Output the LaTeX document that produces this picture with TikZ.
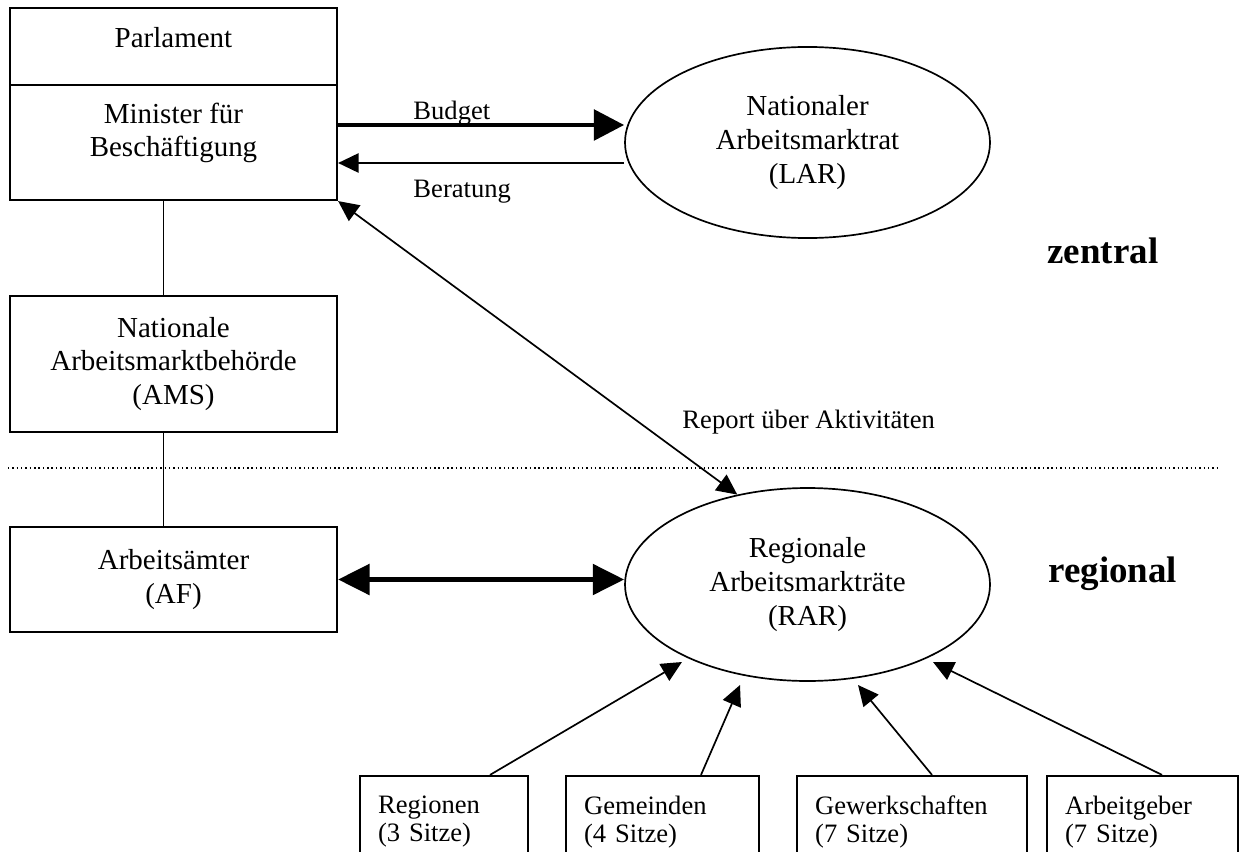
\documentclass[tikz,border=0pt]{standalone}
\usepackage{fontspec}
\setmainfont{Liberation Serif}
\usetikzlibrary{arrows.meta,shapes.geometric,calc}

\begin{document}
\begin{tikzpicture}[x=0.414pt,y=0.414pt,yscale=-1,xscale=1,
	every node/.style={font=\fontsize{12pt}{13.9pt}\selectfont},
	orgbox/.style={draw,line width=0.9pt,inner sep=0pt,align=center,minimum width=135.4pt},
	oval/.style={draw,ellipse,line width=0.7pt,inner sep=0pt,align=center,minimum width=151.1pt},
	seatbox/.style={draw,line width=0.9pt,inner xsep=7.5pt,inner ysep=0pt,minimum height=38.1pt,align=left,font=\fontsize{11pt}{11.6pt}\selectfont},
	arrlabel/.style={anchor=base west,inner sep=0pt,font=\fontsize{11pt}{13pt}\selectfont},
	zonelabel/.style={anchor=base west,inner sep=0pt,font=\fontsize{15.3pt}{18pt}\selectfont\bfseries},
	link/.style={line width=0.7pt},
	thinarrow/.style={line width=0.7pt,-{Triangle[length=8.5pt,width=8pt]}},
	twoway/.style={line width=0.7pt,{Triangle[length=8.5pt,width=8pt]}-{Triangle[length=8.5pt,width=8pt]}},
	thickarrow/.style={line width=2pt,-{Triangle[length=12.5pt,width=12.5pt]}},
	thicktwoway/.style={line width=2pt,{Triangle[length=13pt,width=12.5pt]}-{Triangle[length=13pt,width=12.5pt]}}]
	\useasboundingbox (0,0) rectangle (1239,852);
	\clip (0,0) rectangle (1239,852);
	\draw (173.5,46.5) node [orgbox,minimum height=31.9pt,text depth=7.8pt] (parlament) {Parlament};
	\draw (173.5,142.5) node [orgbox,minimum height=47.6pt,text depth=10.4pt] (minister) {Minister für\\Beschäftigung};
	\draw (173.5,364) node [orgbox,minimum height=56.3pt] (ams) {Nationale\\Arbeitsmarktbehörde\\(AMS)};
	\draw (173.5,579.5) node [orgbox,minimum height=43.5pt] (af) {Arbeitsämter\\(AF)};
	\draw (807.5,142.5) node [oval,minimum height=79.1pt] (lar) {Nationaler\\Arbeitsmarktrat\\(LAR)};
	\draw (807.5,584.5) node [oval,minimum height=79.9pt] (rar) {Regionale\\Arbeitsmarkträte\\(RAR)};
	\draw (444,822) node [seatbox,text width=54.6pt] (regionen) {Regionen\\(3 Sitze)};
	\draw (662.5,822) node [seatbox,text width=64.9pt] (gemeinden) {Gemeinden\\(4 Sitze)};
	\draw (912,822) node [seatbox,text width=80.2pt] (gewerkschaften) {Gewerkschaften\\(7 Sitze)};
	\draw (1142.5,822) node [seatbox,text width=64.1pt] (arbeitgeber) {Arbeitgeber\\(7 Sitze)};
	\draw (413,119) node [arrlabel] (budgetlbl) {Budget};
	\draw (413,197) node [arrlabel] (beratunglbl) {Beratung};
	\draw (682,428) node [arrlabel] (reportlbl) {Report über Aktivitäten};
	\draw (1047,263) node [zonelabel] (zentrallbl) {zentral};
	\draw (1048,582) node [zonelabel] (regionallbl) {regional};
	\coordinate (tipreg) at (682,662);
	\coordinate (tipgem) at (740,685);
	\coordinate (tipgew) at (858,685);
	\coordinate (tipag) at (933,662);
	\draw [line width=0.5pt,dash pattern=on 0.6pt off 1.2pt] (8,468) -- (1221,468);
	\draw [link] ($(minister.south)+(-10,0)$) -- ($(ams.north)+(-10,0)$);
	\draw [link] ($(ams.south)+(-10,0)$) -- ($(af.north)+(-10,0)$);
	\draw [thickarrow] ($(minister.east)+(0,-17.5)$) -- ($(lar.west)+(0,-17.5)$);
	\draw [thinarrow] ($(lar.west)+(0,20.5)$) -- ($(minister.east)+(0,20.5)$);
	\draw [twoway] (minister.south east) -- (rar.128);
	\draw [thicktwoway] (af.east) -- (af.east -| rar.west);
	\draw [thinarrow] ($(regionen.north)+(46,0)$) -- (tipreg);
	\draw [thinarrow] ($(gemeinden.north)+(38.5,0)$) -- (tipgem);
	\draw [thinarrow] ($(gewerkschaften.north)+(20,0)$) -- (tipgew);
	\draw [thinarrow] ($(arbeitgeber.north)+(19.5,0)$) -- (tipag);
\end{tikzpicture}
\end{document}
